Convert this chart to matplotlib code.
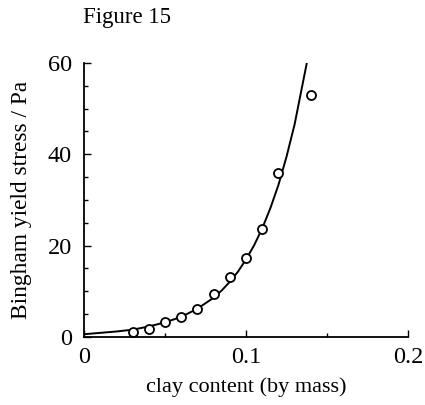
import matplotlib
matplotlib.use("Agg")
import matplotlib.pyplot as plt
from matplotlib.ticker import MultipleLocator

# measured points
clay = [0.03, 0.04, 0.05, 0.06, 0.07, 0.08, 0.09, 0.10, 0.11, 0.12, 0.14]
stress = [1.0, 1.7, 3.3, 4.4, 6.2, 9.4, 13.2, 17.2, 23.6, 36.0, 53.0]

# fitted curve
curve_x = [0, 0.02, 0.03, 0.04, 0.05, 0.06, 0.07, 0.08, 0.085, 0.09, 0.095,
           0.10, 0.105, 0.11, 0.115, 0.12, 0.125, 0.13, 0.1375]
curve_y = [0.6, 1.2, 1.6, 2.3, 3.2, 4.4, 6.2, 8.6, 10.2, 12.1, 14.3,
           17.0, 20.1, 23.8, 28.2, 33.3, 39.5, 46.6, 60.0]

plt.rcParams["font.family"] = ["Liberation Serif", "DejaVu Serif"]

fig = plt.figure(figsize=(4.25, 4.05), dpi=100)
ax = fig.add_axes([0.198, 0.168, 0.762, 0.6765])

ax.plot(curve_x, curve_y, color="black", lw=1.4)
ax.plot(clay, stress, "o", mfc="white", mec="black", mew=1.3, ms=6.5)

ax.set_xlim(0, 0.2)
ax.set_ylim(0, 60)
ax.set_xticks([0, 0.1, 0.2])
ax.set_xticklabels(["0", "0.1", "0.2"])
ax.set_yticks([0, 20, 40, 60])
ax.xaxis.set_minor_locator(MultipleLocator(0.05))
ax.yaxis.set_minor_locator(MultipleLocator(5))
ax.tick_params(which="both", direction="in", labelsize=17.5, width=1)
ax.tick_params(which="major", length=5)
ax.tick_params(axis="x", which="major", pad=7)
ax.tick_params(axis="y", which="major", pad=9)
ax.tick_params(which="minor", length=3)

for side in ["top", "right"]:
    ax.spines[side].set_visible(False)
for side in ["left", "bottom"]:
    ax.spines[side].set_linewidth(1.3)

ax.set_xlabel("clay content (by mass)", fontsize=16, labelpad=7)
ax.set_ylabel("Bingham yield stress / Pa", fontsize=16.8, labelpad=11)

fig.text(0.195, 0.957, "Figure 15", fontsize=16.5, ha="left", va="center")

fig.savefig("out.png", dpi=100)
